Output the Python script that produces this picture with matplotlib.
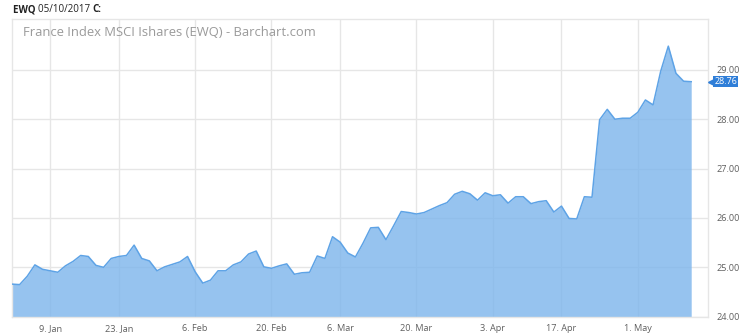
import pandas as pd
import matplotlib
matplotlib.use("Agg")
import matplotlib.pyplot as plt

# EWQ daily closes, 30 Dec 2016 .. 10 May 2017
START = "2016-12-30"
END = "2017-05-10"
HOLIDAYS = ["2017-01-02", "2017-01-16", "2017-02-20", "2017-04-14"]

closes = [
    24.66, 24.65, 24.82, 25.05, 24.96, 24.93, 24.90, 25.03, 25.12, 25.24,
    25.22, 25.04, 25.00, 25.18, 25.22, 25.24, 25.45, 25.18, 25.13, 24.93,
    25.01, 25.06, 25.11, 25.22, 24.91, 24.68, 24.74, 24.93, 24.93, 25.05,
    25.11, 25.27, 25.33, 25.01, 24.98, 25.03, 25.07, 24.86, 24.89, 24.90,
    25.23, 25.18, 25.62, 25.51, 25.29, 25.21, 25.49, 25.80, 25.81, 25.56,
    25.84, 26.13, 26.11, 26.08, 26.11, 26.18, 26.25, 26.31, 26.48, 26.54,
    26.49, 26.36, 26.51, 26.45, 26.47, 26.30, 26.43, 26.43, 26.29, 26.33,
    26.35, 26.12, 26.24, 25.99, 25.98, 26.43, 26.42, 27.99, 28.20, 28.00,
    28.02, 28.02, 28.14, 28.39, 28.29, 28.97, 29.48, 28.93, 28.77, 28.76,
]

tick_dates = ["2017-01-09", "2017-01-23", "2017-02-06", "2017-02-20", "2017-03-06",
              "2017-03-20", "2017-04-03", "2017-04-17", "2017-05-01"]
tick_labels = ["9. Jan", "23. Jan", "6. Feb", "20. Feb", "6. Mar",
               "20. Mar", "3. Apr", "17. Apr", "1. May"]
y_ticks = [24, 25, 26, 27, 28, 29]

FILL = "#7cb5ec"
LINE = "#5ea3e6"
GRID = "#e6e6e6"
LABEL = "#606060"

plt.rcParams["font.family"] = ["Open Sans", "DejaVu Sans"]

# ordinal (trading-day) x axis like the web chart
days = pd.bdate_range(START, END)
days = days[~days.isin(pd.to_datetime(HOLIDAYS))]
x = list(range(len(days)))
tick_pos = days.searchsorted(pd.to_datetime(tick_dates))

fig = plt.figure(figsize=(7.5, 3.36), dpi=100)
ax = fig.add_axes([12 / 750, (336 - 316.7) / 336, 696 / 750, (316.7 - 19) / 336])

ax.fill_between(x, closes, 24, color=FILL, alpha=0.8, linewidth=0, zorder=2)
ax.plot(x, closes, color=LINE, linewidth=1.1, zorder=3)

ax.set_xlim(0, 91.2)
ax.set_ylim(24, 30.03)

ax.set_xticks(tick_pos)
ax.set_xticklabels(tick_labels)
ax.set_yticks(y_ticks)
ax.set_yticklabels([f"{v:.2f}" for v in y_ticks])
ax.yaxis.tick_right()
ax.tick_params(axis="x", length=0, pad=5, labelsize=6.6, labelcolor=LABEL)
ax.tick_params(axis="y", length=0, pad=6, labelsize=6.6, labelcolor=LABEL)

ax.grid(True, color=GRID, linewidth=1, zorder=0)
ax.set_axisbelow(True)
for s in ax.spines.values():
    s.set_color(GRID)
    s.set_linewidth(1)

# last price flag
last = closes[-1]
tr = ax.get_yaxis_transform()
ax.plot([1.0045], [last], marker="<", markersize=4, color="#2f7ed8",
        transform=tr, clip_on=False, zorder=5)
ax.text(1.009, last, f"{last:.2f}", transform=tr, ha="left", va="center",
        fontsize=6.4, color="white", zorder=6,
        bbox=dict(boxstyle="square,pad=0.12", fc="#2f7ed8", ec="none"))

# header line with mixed weights
fig.canvas.draw()
renderer = fig.canvas.get_renderer()
xpos = 13
for txt, w in [("EWQ ", "bold"), ("05/10/2017 ", "normal"), ("C:", "bold")]:
    t = fig.text(xpos / 750, 1 - 9.5 / 336, txt, fontsize=7, fontweight=w,
                 color="#222222", ha="left", va="center")
    bb = t.get_window_extent(renderer)
    xpos += bb.width

fig.text(22.7 / 750, 1 - 32.5 / 336, "France Index MSCI Ishares (EWQ) - Barchart.com",
         fontsize=9.4, color="#9a9a9a", ha="left", va="center")

fig.savefig("out.png", dpi=100)
